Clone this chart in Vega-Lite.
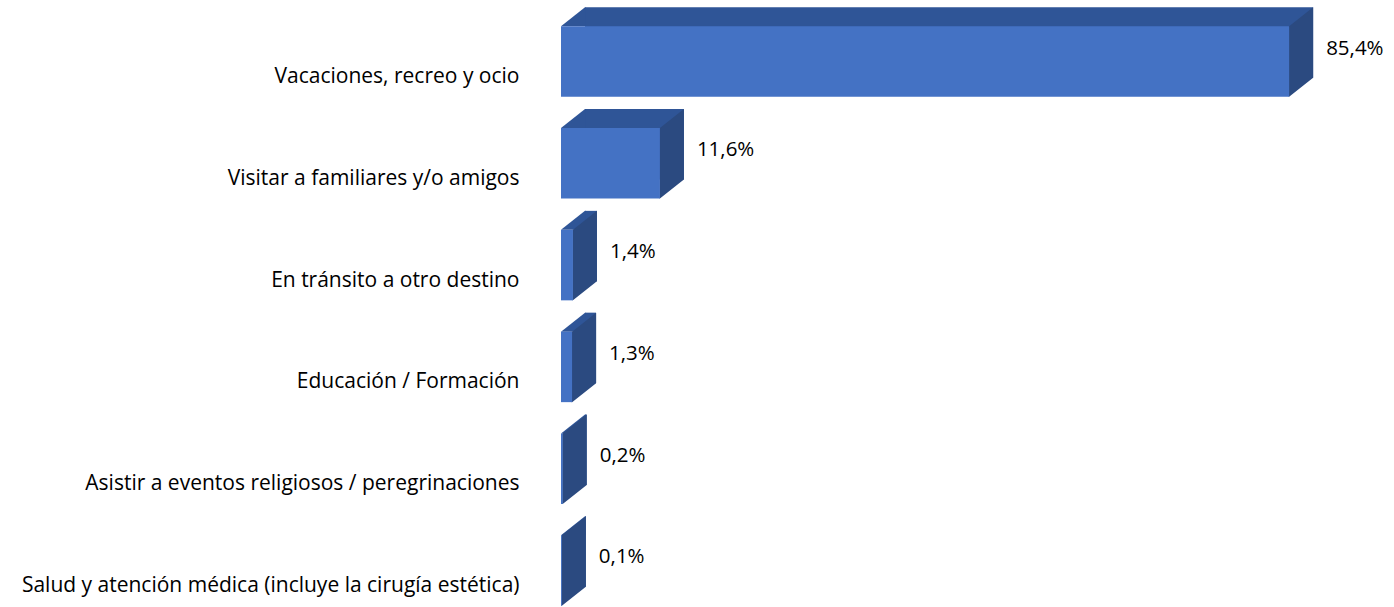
{
  "$schema": "https://vega.github.io/schema/vega-lite/v6.json",
  "autosize": "none",
  "width": 833,
  "height": 582,
  "padding": {"left": 561, "top": 25, "right": 0, "bottom": 0},
  "background": "white",
  "config": {
    "view": {"stroke": null},
    "locale": {"number": {"decimal": ",", "thousands": ".", "grouping": [3], "currency": ["", " €"]}}
  },
  "data": {
    "values": [
      {"motivo": "Vacaciones, recreo y ocio", "pct": 0.854},
      {"motivo": "Visitar a familiares y/o amigos", "pct": 0.116},
      {"motivo": "En tránsito a otro destino", "pct": 0.014},
      {"motivo": "Educación / Formación", "pct": 0.013},
      {"motivo": "Asistir a eventos religiosos / peregrinaciones", "pct": 0.002},
      {"motivo": "Salud y atención médica (incluye la cirugía estética)", "pct": 0.001}
    ]
  },
  "encoding": {
    "y": {
      "field": "motivo",
      "type": "nominal",
      "sort": null,
      "scale": {"paddingInner": 0.3075, "paddingOuter": 0.0123},
      "axis": {
        "title": null,
        "ticks": false,
        "domain": false,
        "grid": false,
        "labelPadding": 42,
        "labelFont": "Open Sans",
        "labelFontSize": 21,
        "labelColor": "#000000",
        "labelOffset": 15.5,
        "labelLimit": 700,
        "labelBaseline": "middle"
      }
    }
  },
  "layer": [
    {
      "mark": {"type": "bar", "color": "#2F5597", "xOffset": 24, "x2Offset": 24, "yOffset": -19},
      "encoding": {
        "x": {"field": "pct", "type": "quantitative", "scale": {"domain": [0, 0.977], "nice": false, "zero": true}, "axis": null},
        "x2": {"datum": 0}
      }
    },
    {
      "mark": {"type": "point", "shape": "M0,-35.25 L24,-54.25 L24.5,-54.25 L24.5,-35.25 Z", "size": 4, "filled": true, "opacity": 1, "color": "#2F5597", "strokeWidth": 0},
      "encoding": {
        "x": {"datum": 0, "type": "quantitative", "scale": {"domain": [0, 0.977], "nice": false, "zero": true}}
      }
    },
    {
      "mark": {"type": "point", "shape": "M-0.5,-35.25 L0,-35.25 L24,-54.25 L24,16.25 L0,35.25 L-0.5,35.25 Z", "size": 4, "filled": true, "opacity": 1, "color": "#2B4A80", "strokeWidth": 0},
      "encoding": {
        "x": {"field": "pct", "type": "quantitative", "scale": {"domain": [0, 0.977], "nice": false, "zero": true}}
      }
    },
    {
      "mark": {"type": "bar", "color": "#4472C4"},
      "encoding": {
        "x": {"field": "pct", "type": "quantitative", "scale": {"domain": [0, 0.977], "nice": false, "zero": true}},
        "x2": {"datum": 0}
      }
    },
    {
      "mark": {"type": "text", "align": "left", "baseline": "middle", "dx": 37, "dy": -13, "font": "Open Sans", "fontSize": 20.5, "color": "#000000"},
      "encoding": {
        "x": {"field": "pct", "type": "quantitative", "scale": {"domain": [0, 0.977], "nice": false, "zero": true}},
        "text": {"field": "pct", "type": "quantitative", "format": ".1%"}
      }
    }
  ]
}
